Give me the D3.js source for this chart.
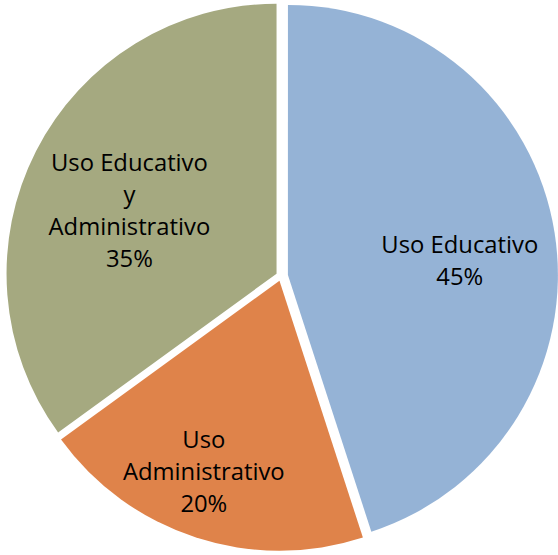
<!DOCTYPE html>
<html><head><meta charset="utf-8">
<script src="https://cdn.jsdelivr.net/npm/d3@7"></script>
<style>html,body{margin:0;padding:0;background:#fff}svg{display:block}</style>
</head><body>
<script>
const categories = ["Uso Educativo", "Uso Administrativo", "Uso Educativo y Administrativo"];
const values = [45, 20, 35];
const labelLines = [["Uso Educativo"], ["Uso", "Administrativo"], ["Uso Educativo", "y", "Administrativo"]];
const colors = ["#95B3D6", "#DF834A", "#A5A980"];

const W = 558, H = 555;
const cx = 281, cy = 276, R = 270;
const explode = [7, 5, 5];
const labelDist = [172, 213, 157];
const labelShift = [7, 2.8, -6.6]; // degrees

const svg = d3.select("body").append("svg").attr("width", W).attr("height", H);
const pie = d3.pie().sort(null).value(d => d)(values);
const arc = d3.arc().innerRadius(0).outerRadius(R);
const total = d3.sum(values);

const font = "'Open Sans', 'DejaVu Sans', sans-serif";
// fit font size so that "Uso Educativo" is ~157px wide
const probe = svg.append("text").attr("font-family", font).attr("font-size", 20).text("Uso Educativo");
const pw = probe.node().getComputedTextLength();
probe.remove();
const fs = 20 * 157 / pw;

const g = svg.append("g").attr("transform", `translate(${cx},${cy})`);
pie.forEach((p, i) => {
  const mid = (p.startAngle + p.endAngle) / 2;
  const ox = explode[i] * Math.sin(mid), oy = -explode[i] * Math.cos(mid);
  const sg = g.append("g").attr("transform", `translate(${ox},${oy})`);
  sg.append("path").attr("d", arc(p)).attr("fill", colors[i]);
  const la = mid + labelShift[i] * Math.PI / 180;
  const lx = labelDist[i] * Math.sin(la), ly = -labelDist[i] * Math.cos(la);
  const lines = labelLines[i].concat([Math.round(values[i] / total * 100) + "%"]);
  const lh = 32;
  const t = sg.append("text").attr("text-anchor", "middle")
    .attr("font-family", font).attr("font-size", fs).attr("fill", "#000");
  lines.forEach((ln, k) => {
    t.append("tspan").attr("x", lx).attr("y", ly + (k - (lines.length - 1) / 2) * lh).text(ln);
  });
});
</script>
</body></html>
